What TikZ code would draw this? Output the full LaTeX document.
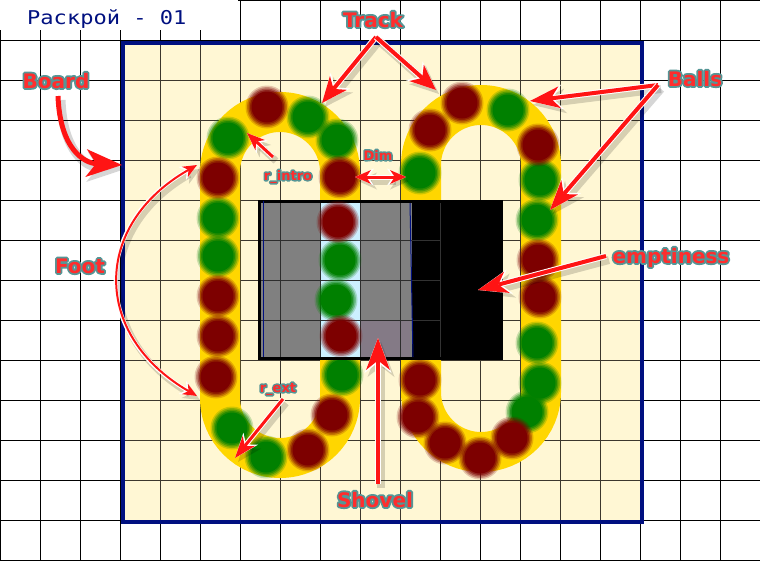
\documentclass[tikz,border=0pt]{standalone}
\usepackage{fontspec}
\usetikzlibrary{arrows.meta,calc}
\newfontfamily\lblfont{DejaVu Sans}
\newfontfamily\ttlfont{DejaVu Sans Mono}
\definecolor{cream}{RGB}{255,247,212}
\definecolor{trackc}{RGB}{255,214,0}
\definecolor{navy}{RGB}{0,16,128}
\definecolor{ballg}{RGB}{0,128,0}
\definecolor{ballr}{RGB}{125,0,0}
\definecolor{arrred}{RGB}{255,20,20}
\definecolor{lblred}{RGB}{255,45,45}
\definecolor{tealc}{RGB}{85,150,150}
\definecolor{stripc}{RGB}{204,240,255}
\definecolor{shovgray}{RGB}{128,128,128}
\definecolor{shovpurp}{RGB}{132,122,134}
\definecolor{bgrid}{RGB}{60,55,45}
\definecolor{sgrid}{RGB}{45,45,45}
\definecolor{kgrid}{RGB}{50,50,50}

\tikzset{
  gridline/.style={black, line width=0.9pt},
  boardgrid/.style={bgrid, line width=0.9pt},
  shovgrid/.style={sgrid, line width=0.9pt},
  trackline/.style={trackc, line width=40pt, rounded corners=60pt},
  lblglow/.style={anchor=base, inner sep=0pt, text=tealc},
  lbltext/.style={anchor=base, inner sep=0pt, text=lblred},
}

% soft-edged ball: colour, x, y
\newcommand\softball[3]{%
  \foreach \r/\o in {21.5/0.2,20/0.3,18.5/0.4,17/0.55,15.5/1}
    \fill[#1, opacity=\o] (#2,#3) circle[radius=\r];}

% outlined label: name, x, baseline y, size, text, outline width
\newcommand\lbl[6]{%
  \node[lblglow, font=\lblfont\bfseries\fontsize{#4}{#4}\selectfont] at (#2,#3)
     {\special{pdf:literal direct 0.333 0.588 0.588 RG 1 j 2 Tr #6 w}#5\special{pdf:literal direct 0 Tr}};
  \node[lbltext, font=\lblfont\bfseries\fontsize{#4}{#4}\selectfont] (#1) at (#2,#3) {#5};}

\newcommand\fancyarrow[5]{%
  \pgfmathsetmacro\wlw{#1+2}%
  \pgfmathsetmacro\slw{#1+4}%
  \pgfmathsetmacro\wlen{#2+3}%
  \pgfmathsetmacro\wwid{#3+3}%
  \pgfmathsetmacro\ins{#2*0.3}%
  \pgfmathsetmacro\wins{(#2+3)*0.3}%
  \draw[black, opacity=0.16, line width=\slw pt, >={Stealth[length=\wlen pt, width=\wwid pt, inset=\wins pt, line width=0pt]}, #4, transform canvas={shift={(3pt,-4pt)}}] #5;
  \draw[white, line width=\wlw pt, >={Stealth[length=\wlen pt, width=\wwid pt, inset=\wins pt, line width=0pt]}, #4] #5;
  \draw[arrred, line width=#1pt, >={Stealth[length=#2pt, width=#3pt, inset=\ins pt, line width=0pt]}, #4] #5;}

\begin{document}
\begin{tikzpicture}[x=1pt, y=-1pt]
\useasboundingbox (0,0) rectangle (760,560);
\fill[white] (0,0) rectangle (760,560);

% grid
\foreach \x in {0,40,...,760} \draw[gridline] (\x,0) -- (\x,560);
\foreach \y in {0,40,...,560} \draw[gridline] (0,\y) -- (760,\y);

% board
\fill[cream] (122.5,43) rectangle (642,522);
\begin{scope}
  \clip (122.5,43) rectangle (642,522);
  \foreach \x in {160,200,...,640} \draw[boardgrid] (\x,43) -- (\x,522);
  \foreach \y in {80,120,...,520} \draw[boardgrid] (122,\y) -- (642,\y);
\end{scope}
\draw[navy, line width=4pt] (122.5,43) rectangle (642,522);

% tracks
\draw[trackline] (220,112) rectangle (340,458);
\draw[trackline] (421,105) rectangle (541,452);

% balls
\foreach \x/\y in {228/138,218/218,218/256,232/428,266/457,342/375,308/117,337/140,
                   508/110,540/180,537/220,537/343,540/383,527/412,420/173}
  {\softball{ballg}{\x}{\y}}
\foreach \x/\y in {218/178,218/296,218/336,216/377,308/450,332/415,340/177,267/107,
                   430/130,462/103,538/145,538/260,540/297,512/438,480/458,445/443,418/417,420/380}
  {\softball{ballr}{\x}{\y}}

% shovel
\fill[black] (258,200) rectangle (503,360);
\fill[shovgray] (261,203) rectangle (412,357);
\fill[stripc] (321,203) rectangle (360,357);
\fill[shovpurp] (360,321) rectangle (410,357);
\foreach \x in {280,320,360,400} \draw[shovgrid] (\x,203) -- (\x,357);
\foreach \y in {240,280,320} \draw[shovgrid] (261,\y) -- (412,\y);
\foreach \y in {240,280,320} \draw[kgrid, line width=0.8pt] (412,\y) -- (440,\y);
\draw[kgrid, line width=0.8pt] (440,203) -- (440,357);
\draw[navy, line width=1pt] (263,201) -- (263,357);
\draw[navy, line width=1pt] (410,203) -- (413,357);
\foreach \x/\y in {340/260,336/300} {\softball{ballg}{\x}{\y}}
\foreach \x/\y in {338/222,341/336} {\softball{ballr}{\x}{\y}}

% title
\fill[white] (0,0) rectangle (238,30);
\node[anchor=base west, inner sep=0pt, text=navy, font=\ttlfont\fontsize{19}{19}\selectfont] (title) at (27,24) {\scalebox{1.16}[1]{Раскрой - 01}};

% arrow end points
\coordinate (trkTail) at (376,37);
\coordinate (trkTipL) at (322,103);
\coordinate (trkTipR) at (436,90);
\coordinate (ballTail) at (658,85);
\coordinate (ballTip1) at (530,101);
\coordinate (ballTip2) at (550,210);
\coordinate (brdTail) at (58,96);
\coordinate (brdTip) at (122,165);
\coordinate (footTip1) at (197,165);
\coordinate (footTip2) at (197,396);
\coordinate (introTail) at (273,157);
\coordinate (introTip) at (247,133);
\coordinate (dimL) at (355,177);
\coordinate (dimR) at (406,177);
\coordinate (extTail) at (283,399);
\coordinate (extTip) at (235,458);
\coordinate (empTail) at (606,256);
\coordinate (empTip) at (478,290);
\coordinate (shvTail) at (378,484);
\coordinate (shvTip) at (378,338);

% arrows
\fancyarrow{4}{26}{22}{->}{(trkTail) -- (trkTipL)}
\fancyarrow{4}{26}{22}{->}{(trkTail) -- (trkTipR)}
\fancyarrow{4}{30}{22}{->}{(ballTail) -- (ballTip1)}
\fancyarrow{4}{30}{22}{->}{(ballTail) -- (ballTip2)}
\fancyarrow{4}{30}{22}{->}{(empTail) -- (empTip)}
\fancyarrow{4}{32}{24}{->}{(shvTail) -- (shvTip)}
\fancyarrow{2}{14}{12}{<->}{(footTip1) .. controls (92,225) and (92,335) .. (footTip2)}
\fancyarrow{3}{18}{14}{->}{(introTail) -- (introTip)}
\fancyarrow{3}{22}{16}{->}{(extTail) -- (extTip)}
\fancyarrow{3}{16}{14}{<->}{(dimL) -- (dimR)}
\draw[black, opacity=0.16, line width=9pt, -{Stealth[length=38pt, width=30pt, inset=11pt, line width=0pt]}, transform canvas={shift={(3pt,-4pt)}}] (brdTail) .. controls (60,150) and (85,163) .. (brdTip);
\draw[arrred, line width=5pt, -{Stealth[length=36pt, width=28pt, inset=10pt, line width=0pt]}] (brdTail) .. controls (60,150) and (85,163) .. (brdTip);

% labels
\lbl{lTrack}{373}{27}{20}{Track}{3.6}
\lbl{lBalls}{695}{86}{20}{Balls}{3.6}
\lbl{lBoard}{56}{88}{20}{Board}{3.6}
\lbl{lFoot}{80}{273}{20}{Foot}{3.6}
\lbl{lEmpty}{671}{263}{20}{emptiness}{3.6}
\lbl{lShovel}{375}{507}{20}{Shovel}{3.6}
\lbl{lIntro}{288}{180}{13}{r\_intro}{3}
\lbl{lDim}{378}{160}{13}{Dim}{3}
\lbl{lExt}{278}{392}{13}{r\_ext}{3}
\end{tikzpicture}
\end{document}
